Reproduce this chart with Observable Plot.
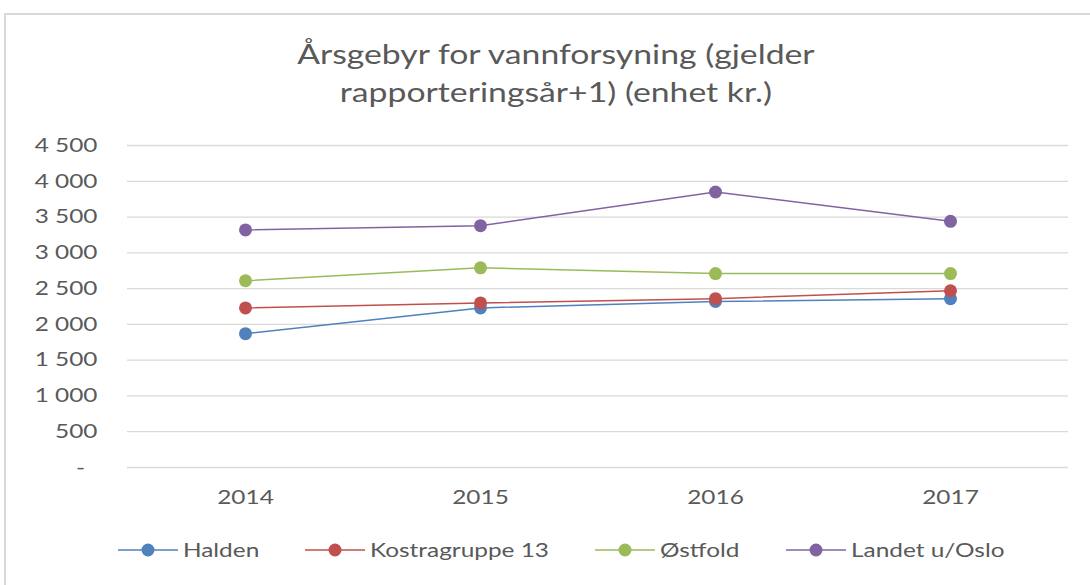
<!DOCTYPE html>
<html>
<head>
<meta charset="utf-8">
<script src="https://cdn.jsdelivr.net/npm/d3@7"></script>
<script src="https://cdn.jsdelivr.net/npm/@observablehq/plot@0.6"></script>
<style>
  html, body { margin: 0; padding: 0; background: #fff; }
  body { width: 1090px; height: 585px; position: relative; overflow: hidden; font-family: Lato, "Open Sans", sans-serif; color: #595959; }
  #frame { position: absolute; left: 4px; top: 13px; width: 1110px; height: 600px; border: 2px solid #d9d9d9; box-sizing: border-box; }
  #title { position: absolute; left: 0; top: 35px; width: 1112px; text-align: center; font-size: 27px; line-height: 38px; color: #595959; }
  #title span { display: inline-block; transform: scaleX(1.25); transform-origin: 50% 50%; }
  #chart { position: absolute; left: 0; top: 120px; }
  #legend { position: absolute; left: 0; top: 539px; width: 1090px; height: 24px; font-size: 19.5px; line-height: 22px; color: #595959; }
  #legend svg { position: absolute; top: 3px; }
  #legend span { position: absolute; top: 0; white-space: nowrap; transform: scaleX(1.25); transform-origin: 0 50%; }
</style>
</head>
<body>
<div id="frame"></div>
<div id="title"><span>Årsgebyr for vannforsyning (gjelder</span><br><span>rapporteringsår+1) (enhet kr.)</span></div>
<div id="chart"></div>
<div id="legend"></div>
<script>
const years = ["2014", "2015", "2016", "2017"];
const seriesNames = ["Halden", "Kostragruppe 13", "Østfold", "Landet u/Oslo"];
const halden = [1870, 2230, 2320, 2360];
const kostragruppe13 = [2230, 2300, 2360, 2470];
const ostfold = [2610, 2790, 2710, 2710];
const landet = [3320, 3380, 3850, 3440];
const seriesColors = ["#4F81BD", "#C0504D", "#9BBB59", "#8064A2"];
const yTicks = [0, 500, 1000, 1500, 2000, 2500, 3000, 3500, 4000, 4500];

const valuesBySeries = [halden, kostragruppe13, ostfold, landet];
const data = seriesNames.flatMap((s, i) => years.map((yr, j) => ({ series: s, year: yr, value: valuesBySeries[i][j] })));

const fmt = d => d === 0 ? "-\u00a0\u00a0" : d3.format(",")(d).replace(/,/g, "\u00a0");
const stretch = 1.25;

const chart = Plot.plot({
  width: 1090,
  height: 400,
  marginLeft: 127,
  marginRight: 22,
  marginTop: 25,
  marginBottom: 53,
  style: { fontFamily: "Lato, 'Open Sans', sans-serif", fontSize: "19.5px", color: "#595959", background: "transparent", overflow: "visible" },
  x: { type: "point", domain: years, padding: 0.5, label: null, tickSize: 0, tickPadding: 23 },
  y: { domain: [0, 4500], ticks: yTicks, label: null, tickSize: 0, tickPadding: 30, tickFormat: fmt },
  color: { domain: seriesNames, range: seriesColors },
  marks: [
    Plot.ruleY(yTicks, { stroke: "#d9d9d9", strokeWidth: 1.3 }),
    Plot.line(data, { x: "year", y: "value", stroke: "series", strokeWidth: 1.5 }),
    Plot.dot(data, { x: "year", y: "value", fill: "series", r: 6.5 })
  ]
});
document.getElementById("chart").appendChild(chart);

// horizontally stretch the tick labels around their anchors (reference text is wide)
d3.select(chart).selectAll("text").each(function () {
  const t = d3.select(this);
  const xa = t.attr("x");
  if (xa != null && !isNaN(+xa)) t.attr("x", +xa / stretch);
  const tr = t.attr("transform") || "";
  t.attr("transform", `${tr} scale(${stretch},1)`);
});

const legend = d3.select("#legend");
let cursor = 118;
seriesNames.forEach((s, i) => {
  const svg = legend.append("svg").attr("width", 60).attr("height", 16).style("left", cursor + "px");
  svg.append("line").attr("x1", 0).attr("x2", 60).attr("y1", 8).attr("y2", 8).attr("stroke", seriesColors[i]).attr("stroke-width", 1.5);
  svg.append("circle").attr("cx", 30).attr("cy", 8).attr("r", 6.5).attr("fill", seriesColors[i]);
  const span = legend.append("span").text(s).style("left", (cursor + 65) + "px");
  const w = span.node().getBoundingClientRect().width;
  cursor += 65 + w + 46;
});
</script>
</body>
</html>
